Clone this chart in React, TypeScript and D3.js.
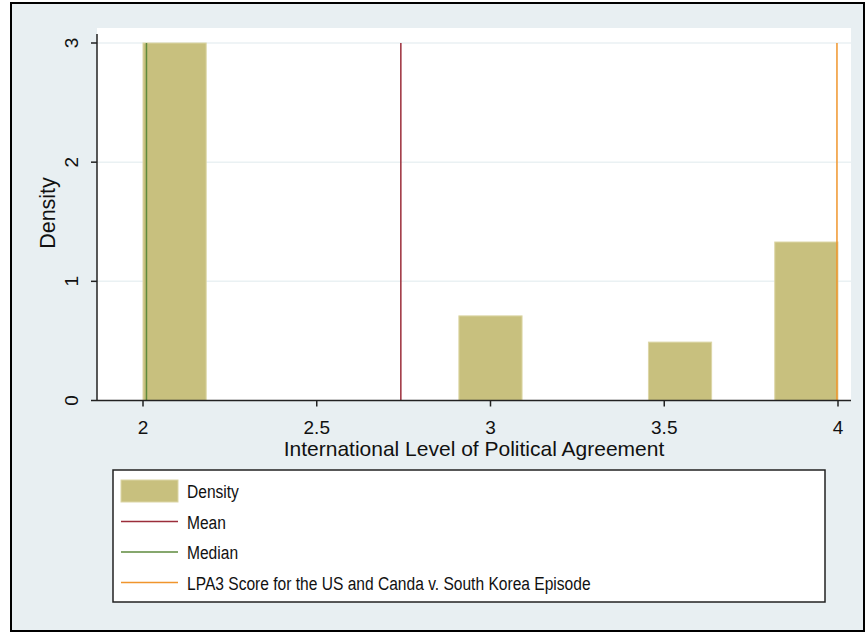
import React from "react";
import * as d3 from "d3";

const binStarts = [2, 2.909, 3.4545, 3.818];
const binWidth = 2 / 11;
const densities = [3.0, 0.71, 0.49, 1.33];
const yTicks = [0, 1, 2, 3];
const xTicks = [2, 2.5, 3, 3.5, 4];
const meanValue = 2.742;
const medianValue = 2.01;
const episodeValue = 3.997;
const legendLabels = ["Density", "Mean", "Median", "LPA3 Score for the US and Canda v. South Korea Episode"];

const W = 867, H = 634;
const BG = "#e8eff2";
const BAR = "#c8c07e";
const BAR_EDGE = "#dcd6a6";
const MEAN_C = "#9b2d3a";
const MEDIAN_C = "#5e8a3c";
const EP_C = "#f0952c";
const FONT = "'Liberation Sans', Arial, sans-serif";

export default function App() {
  const x = d3.scaleLinear().domain([2, 4]).range([143, 838]);
  const y = d3.scaleLinear().domain([0, 3]).range([400.5, 43]);
  const plotL = 97, plotR = 851, plotT = 28, plotB = 400.5;

  const legendColors = [BAR, MEAN_C, MEDIAN_C, EP_C];

  return (
    <svg width={W} height={H} style={{ position: "absolute", left: 0, top: 0 }} fontFamily={FONT}>
      <rect x={0} y={0} width={W} height={H} fill="#ffffff" />
      <rect x={11} y={3} width={853} height={628} fill={BG} stroke="#000" strokeWidth={2} />
      <rect x={plotL} y={plotT} width={plotR - plotL} height={plotB - plotT} fill="#ffffff" />
      {yTicks.filter(t => t > 0).map(t => (
        <line key={"g" + t} x1={plotL} x2={plotR} y1={y(t)} y2={y(t)} stroke="#eaf1f3" strokeWidth={1.5} />
      ))}
      {binStarts.map((b, i) => (
        <rect key={"b" + i} x={x(b)} y={y(densities[i])} width={x(b + binWidth) - x(b)}
          height={y(0) - y(densities[i])} fill={BAR} stroke={BAR_EDGE} strokeWidth={1} />
      ))}
      <line x1={x(meanValue)} x2={x(meanValue)} y1={y(0)} y2={y(3)} stroke={MEAN_C} strokeWidth={1.5} />
      <line x1={x(medianValue)} x2={x(medianValue)} y1={y(0)} y2={y(3)} stroke={MEDIAN_C} strokeWidth={1.5} />
      <line x1={x(episodeValue)} x2={x(episodeValue)} y1={y(0)} y2={y(3)} stroke={EP_C} strokeWidth={1.5} />
      {/* axes */}
      <line x1={plotL} x2={plotL} y1={plotT + 6} y2={plotB} stroke="#222" strokeWidth={1.5} />
      <line x1={plotL} x2={plotR} y1={plotB} y2={plotB} stroke="#222" strokeWidth={1.5} />
      {yTicks.map(t => (
        <g key={"yt" + t}>
          <line x1={plotL - 6} x2={plotL} y1={y(t)} y2={y(t)} stroke="#222" strokeWidth={1.5} />
          <text transform={`translate(${78},${y(t)}) rotate(-90)`} textAnchor="middle" fontSize={19} fill="#111">{t}</text>
        </g>
      ))}
      {xTicks.map(t => (
        <g key={"xt" + t}>
          <line x1={x(t)} x2={x(t)} y1={plotB} y2={plotB + 6} stroke="#222" strokeWidth={1.5} />
          <text x={x(t)} y={434} textAnchor="middle" fontSize={19} fill="#111">{t}</text>
        </g>
      ))}
      <text transform={`translate(${55},${213}) rotate(-90)`} textAnchor="middle" fontSize={21.5} fill="#111">Density</text>
      <text x={474} y={456} textAnchor="middle" fontSize={21} fill="#111">International Level of Political Agreement</text>
      {/* legend */}
      <rect x={113} y={470} width={712} height={132} fill="#ffffff" stroke="#222" strokeWidth={1.5} />
      {legendLabels.map((lab, i) => {
        const cy = 491 + i * 30.5;
        return (
          <g key={"l" + i}>
            {i === 0 ? (
              <rect x={121} y={cy - 11} width={57} height={22} fill={BAR} stroke={BAR_EDGE} strokeWidth={1} />
            ) : (
              <line x1={121} x2={178} y1={cy} y2={cy} stroke={legendColors[i]} strokeWidth={1.5} />
            )}
            <text transform={`translate(187,${cy + 7}) scale(0.82,1)`} fontSize={19} fill="#111">{lab}</text>
          </g>
        );
      })}
    </svg>
  );
}
